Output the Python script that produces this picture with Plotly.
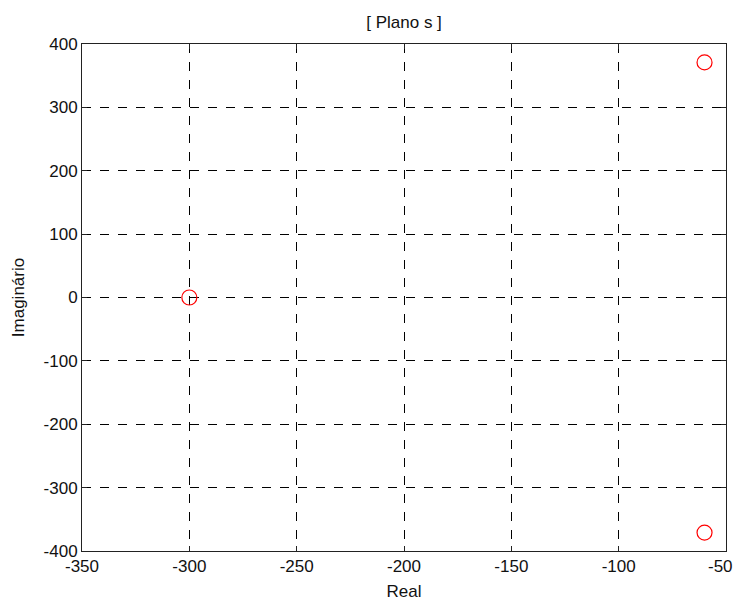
import plotly.graph_objects as go

real_parts = [-300, -60, -60]
imag_parts = [0, 371, -371]
x_ticks = [-350, -300, -250, -200, -150, -100, -50]
y_ticks = [-400, -300, -200, -100, 0, 100, 200, 300, 400]

fig = go.Figure()
fig.add_trace(go.Scatter(
    x=real_parts, y=imag_parts, mode="markers",
    marker=dict(symbol="circle-open", size=15, color="#ff0000",
                line=dict(width=1.2, color="#ff0000")),
    showlegend=False,
))

font = dict(family="Liberation Sans, Arial, sans-serif", size=17, color="#111111")
axis_common = dict(
    showline=True, linecolor="#222222", linewidth=1, mirror="ticks",
    ticks="inside", ticklen=5, tickcolor="#222222",
    showgrid=True, gridcolor="black", griddash="dash", gridwidth=1,
    zeroline=False, tickfont=font, automargin=False,
    ticklabeloverflow="allow",
)
# last x tick label is drawn as an annotation, nudged left to stay inside the page
x_ticktext = [str(v) for v in x_ticks[:-1]] + [""]
fig.update_xaxes(range=[-350, -50], tickvals=x_ticks, ticktext=x_ticktext,
                 title=dict(text="Real", font=font, standoff=9), **axis_common)
fig.update_yaxes(range=[-400, 400], tickvals=y_ticks,
                 ticktext=[str(v) for v in y_ticks],
                 title=dict(text="Imaginário", font=font, standoff=14), **axis_common)

fig.add_annotation(x=x_ticks[-1], xref="x", y=0, yref="paper",
                   text=str(x_ticks[-1]), showarrow=False, font=font,
                   xanchor="center", yanchor="middle", xshift=-6, yshift=-15)

fig.update_layout(
    width=736, height=601,
    margin=dict(l=82, r=10, t=44, b=50),
    paper_bgcolor="white", plot_bgcolor="white",
    title=dict(text="[ Plano s ]", font=font, x=0.549, xanchor="center",
               y=1 - 22 / 601, yanchor="middle"),
    font=font,
)
fig.write_html("out.html")
